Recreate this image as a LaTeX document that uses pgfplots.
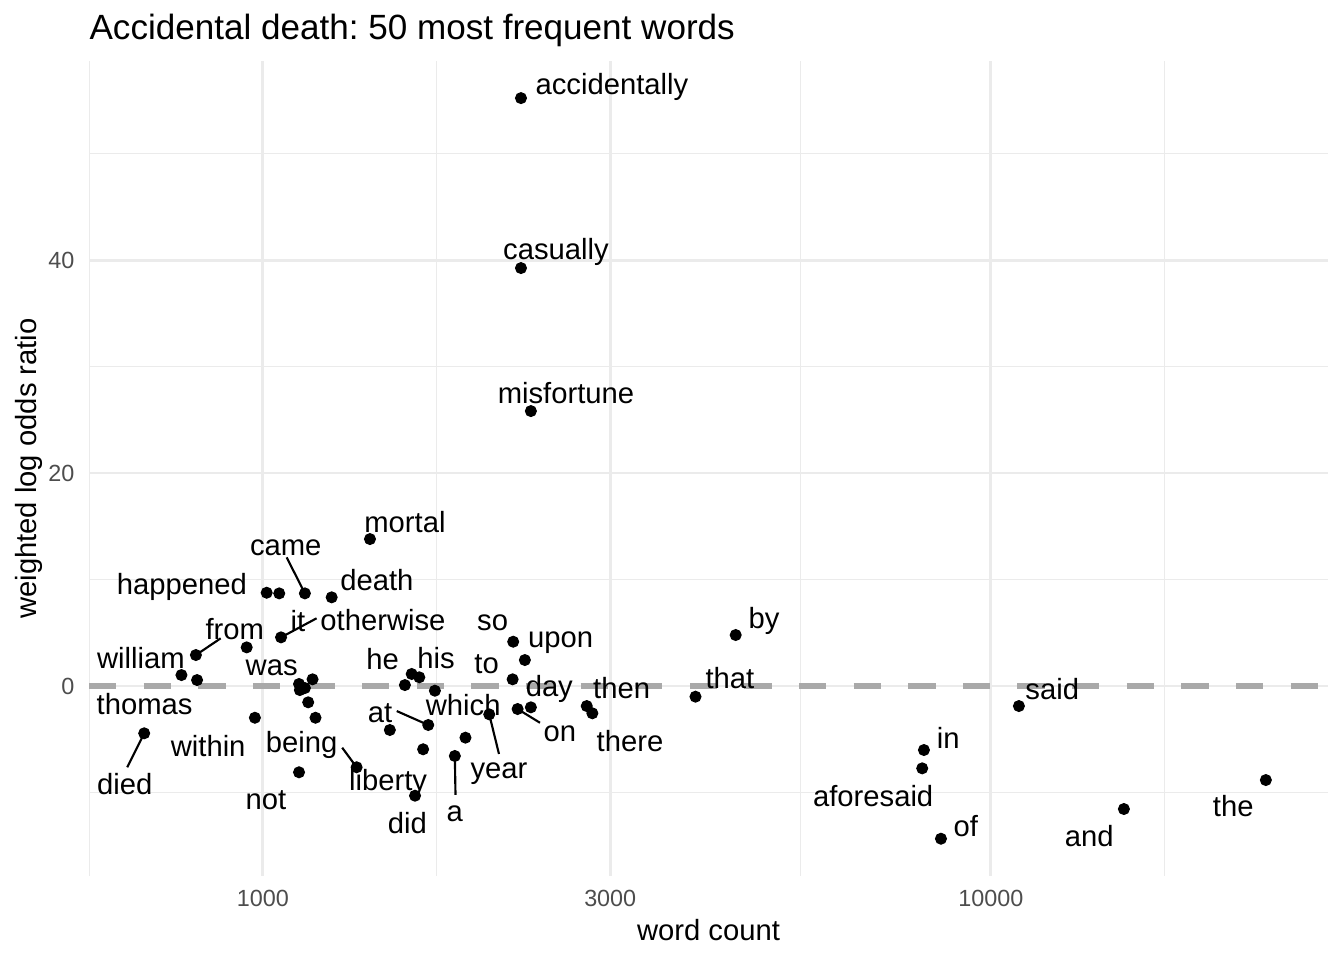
\documentclass[border=0pt]{standalone}
\usepackage{fontspec}
\setmainfont{Liberation Sans}
\usepackage{pgfplots}
\pgfplotsset{compat=1.18}
\frenchspacing
\definecolor{gridc}{HTML}{EBEBEB}
\definecolor{tickc}{HTML}{4D4D4D}
\definecolor{hlc}{HTML}{A9A9A9}
\tikzset{
  lbl/.style={font=\fontsize{11}{13}\selectfont, inner sep=0pt, text height=0.716em, text depth=0.21em, anchor=center, yshift=-1.3bp},
}
\pgfplotsset{seg/.style={black, line width=0.8bp, no markers, forget plot}}
\begin{document}
\begin{tikzpicture}
\path[use as bounding box] (0,0) rectangle (504bp,360bp);
\begin{axis}[
  at={(33.375bp,31.5bp)}, anchor=south west,
  scale only axis, width=464.6bp, height=305.6bp,
  xmode=log, xmin=577, xmax=29040, ymin=-17.84, ymax=58.69,
  xtick={1000,3000,10000}, xticklabels={1000,3000,10000},
  minor xtick={577.4,1732,5477,17320},
  ytick={0,20,40}, yticklabels={0,20,40},
  minor ytick={-10,10,30,50},
  xmajorgrids, ymajorgrids, xminorgrids, yminorgrids,
  major grid style={draw=gridc, line width=1.07bp},
  minor grid style={draw=gridc, line width=0.53bp},
  axis line style={draw=none},
  major tick length=0pt, minor tick length=0pt,
  tick style={draw=none},
  xticklabel style={font=\fontsize{8.8}{10}\selectfont, text=tickc, anchor=base, inner sep=0pt, yshift=-11.5bp},
  yticklabel style={font=\fontsize{8.8}{10}\selectfont, text=tickc, anchor=east, inner sep=0pt, xshift=-5.25bp},
  clip=false,
]
\addplot[hlc, line width=2.56bp, dash pattern=on 10.24bp off 10.24bp, no markers, forget plot] coordinates {(577,0) (29040,0)};
\addplot[only marks, mark=*, mark size=2.05bp, black, mark options={draw=black, fill=black}] table {
x y
2262 55.21
2262 39.25
2334 25.82
1403 13.80
1142 8.70
1012 8.76
1053 8.70
1243 8.33
1059 4.57
809 2.91
950 3.63
773 1.03
812 0.56
1121 0.19
1142 -0.19
1170 0.63
1124 -0.38
1154 -1.53
1181 -2.98
975 -2.98
687 -4.44
1121 -8.10
1345 -7.63
1618 -10.30
1494 -4.13
1687 -3.66
1660 -5.94
1601 1.13
1640 0.82
1567 0.09
1723 -0.44
1898 -4.85
1835 -6.57
2046 -2.66
2207 4.16
2290 2.44
2203 0.63
2238 -2.16
2334 -2.00
2785 -1.88
2835 -2.56
3929 -1.00
4461 4.79
8091 -6.01
8047 -7.73
8539 -14.34
10926 -1.88
15230 -11.55
23860 -8.83
};
% label segments
\addplot[seg] coordinates {(1142,8.70) (1078,12.08)};
\addplot[seg] coordinates {(1059,4.57) (1185,6.36)};
\addplot[seg] coordinates {(809,2.91) (875,4.48)};
\addplot[seg] coordinates {(687,-4.44) (651,-7.63)};
\addplot[seg] coordinates {(1285,-5.79) (1345,-7.63)};
\addplot[seg] coordinates {(1527,-2.35) (1687,-3.66)};
\addplot[seg] coordinates {(2046,-2.66) (2110,-6.38)};
\addplot[seg] coordinates {(1835,-6.57) (1839,-10.23)};
\addplot[seg] coordinates {(2238,-2.16) (2402,-3.45)};
% labels
\node[lbl] at (axis cs:3016,56.53) {accidentally};
\node[lbl] at (axis cs:2527,41.03) {casually};
\node[lbl] at (axis cs:2608,27.51) {misfortune};
\node[lbl] at (axis cs:1567,15.40) {mortal};
\node[lbl] at (axis cs:1075,13.24) {came};
\node[lbl] at (axis cs:774,9.58) {happened};
\node[lbl] at (axis cs:1434,9.95) {death};
\node[lbl] at (axis cs:1117,6.10) {it};
\node[lbl] at (axis cs:1462,6.20) {otherwise};
\node[lbl] at (axis cs:915,5.35) {from};
\node[lbl] at (axis cs:680,2.63) {william};
\node[lbl] at (axis cs:1028,1.97) {was};
\node[lbl] at (axis cs:1460,2.47) {he};
\node[lbl] at (axis cs:1729,2.63) {his};
\node[lbl] at (axis cs:2068,6.13) {so};
\node[lbl] at (axis cs:2564,4.60) {upon};
\node[lbl] at (axis cs:2029,2.09) {to};
\node[lbl] at (axis cs:2474,0.00) {day};
\node[lbl] at (axis cs:3110,-0.19) {then};
\node[lbl] at (axis cs:4381,0.75) {that};
\node[lbl] at (axis cs:4879,6.38) {by};
\node[lbl] at (axis cs:688,-1.76) {thomas};
\node[lbl] at (axis cs:841,-5.66) {within};
\node[lbl] at (axis cs:1130,-5.32) {being};
\node[lbl] at (axis cs:1486,-8.83) {liberty};
\node[lbl] at (axis cs:1010,-10.64) {not};
\node[lbl] at (axis cs:1579,-12.86) {did};
\node[lbl] at (axis cs:1448,-2.44) {at};
\node[lbl] at (axis cs:1884,-1.85) {which};
\node[lbl] at (axis cs:2110,-7.77) {year};
\node[lbl] at (axis cs:2558,-4.29) {on};
\node[lbl] at (axis cs:1835,-11.80) {a};
\node[lbl] at (axis cs:3193,-5.19) {there};
\node[lbl] at (axis cs:646,-9.27) {died};
\node[lbl] at (axis cs:8737,-4.95) {in};
\node[lbl] at (axis cs:6891,-10.36) {aforesaid};
\node[lbl] at (axis cs:9240,-13.17) {of};
\node[lbl] at (axis cs:12140,-0.28) {said};
\node[lbl] at (axis cs:13650,-14.11) {and};
\node[lbl] at (axis cs:21520,-11.30) {the};
\end{axis}
\node[anchor=base west, inner sep=0pt, font=\fontsize{13.2}{15}\selectfont] at (33.4bp,345bp) {Accidental death: 50 most frequent words};
\node[anchor=base, inner sep=0pt, font=\fontsize{11}{13}\selectfont] at (265.7bp,7.5bp) {word count};
\node[rotate=90, inner sep=0pt, text height=0.716em, text depth=0.21em, font=\fontsize{11}{13}\selectfont] at (11.25bp,184.3bp) {weighted log odds ratio};
\end{tikzpicture}
\end{document}
